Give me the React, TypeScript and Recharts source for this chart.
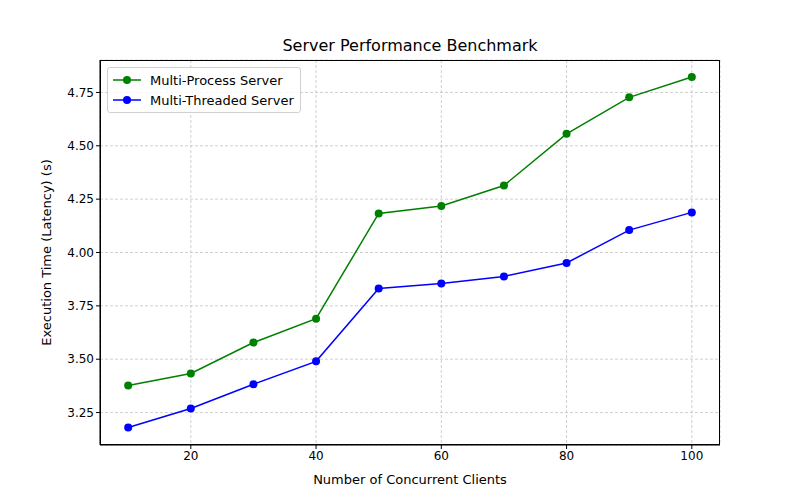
import {
  LineChart,
  Line,
  XAxis,
  YAxis,
  CartesianGrid,
} from "recharts";

const clients = [10, 20, 30, 40, 50, 60, 70, 80, 90, 100];
const multiProcess = [3.377, 3.433, 3.578, 3.69, 4.183, 4.218, 4.314, 4.556, 4.727, 4.822];
const multiThreaded = [3.18, 3.269, 3.383, 3.49, 3.831, 3.855, 3.888, 3.951, 4.105, 4.188];
const xTicks = [20, 40, 60, 80, 100];
const yTicks = [3.25, 3.5, 3.75, 4.0, 4.25, 4.5, 4.75];

const data = clients.map((c, i) => ({
  clients: c,
  process: multiProcess[i],
  threaded: multiThreaded[i],
}));

const font = "DejaVu Sans, sans-serif";

function LegendBox() {
  const items = [
    { label: "Multi-Process Server", color: "#008000" },
    { label: "Multi-Threaded Server", color: "#0000ff" },
  ];
  return (
    <div
      style={{
        position: "absolute",
        left: 107,
        top: 67,
        border: "1px solid #d0d0d0",
        borderRadius: 3,
        background: "rgba(255,255,255,0.8)",
        padding: "2px 6px 2px 4px",
        fontFamily: font,
        fontSize: 13,
        color: "#000",
      }}
    >
      {items.map((it) => (
        <div key={it.label} style={{ display: "flex", alignItems: "center", height: 20 }}>
          <svg width={30} height={12} style={{ marginRight: 8 }}>
            <line x1={1} y1={6} x2={29} y2={6} stroke={it.color} strokeWidth={1.5} />
            <circle cx={15} cy={6} r={4} fill={it.color} />
          </svg>
          <span>{it.label}</span>
        </div>
      ))}
    </div>
  );
}

export default function App() {
  return (
    <div style={{ position: "absolute", left: 0, top: 0, width: 800, height: 500, background: "#fff" }}>
      <div
        style={{
          position: "absolute",
          top: 36,
          left: 0,
          width: 820,
          textAlign: "center",
          fontFamily: font,
          fontSize: 16,
        }}
      >
        Server Performance Benchmark
      </div>
      <LineChart
        width={800}
        height={500}
        data={data}
        margin={{ top: 60, right: 80, bottom: 25, left: 40 }}
      >
        <CartesianGrid stroke="#b0b0b0" strokeDasharray="3 2" strokeWidth={0.6} />
        <XAxis
          dataKey="clients"
          type="number"
          domain={[5.5, 104.5]}
          ticks={xTicks}
          height={30}
          stroke="#000"
          tickSize={4}
          tick={{ fill: "#000", fontSize: 12, fontFamily: font }}
          label={{ value: "Number of Concurrent Clients", position: "insideBottom", offset: -9, fill: "#000", fontSize: 13, fontFamily: font }}
        />
        <YAxis
          type="number"
          domain={[3.098, 4.902]}
          ticks={yTicks}
          width={60}
          stroke="#000"
          tickSize={4}
          tickFormatter={(v: number) => v.toFixed(2)}
          tick={{ fill: "#000", fontSize: 12, fontFamily: font }}
          label={{ value: "Execution Time (Latency) (s)", angle: -90, position: "insideLeft", offset: 0, dx: 6, fill: "#000", fontSize: 13, fontFamily: font, style: { textAnchor: "middle" } }}
        />
        <Line
          dataKey="process"
          name="Multi-Process Server"
          stroke="#008000"
          strokeWidth={1.5}
          dot={{ r: 4, fill: "#008000", stroke: "#008000", strokeWidth: 0 }}
          activeDot={false}
          isAnimationActive={false}
        />
        <Line
          dataKey="threaded"
          name="Multi-Threaded Server"
          stroke="#0000ff"
          strokeWidth={1.5}
          dot={{ r: 4, fill: "#0000ff", stroke: "#0000ff", strokeWidth: 0 }}
          activeDot={false}
          isAnimationActive={false}
        />
      </LineChart>
      <div
        style={{
          position: "absolute",
          left: 100,
          top: 60,
          width: 620,
          height: 385,
          boxSizing: "border-box",
          border: "1px solid #000",
          pointerEvents: "none",
        }}
      />
      <LegendBox />
    </div>
  );
}
